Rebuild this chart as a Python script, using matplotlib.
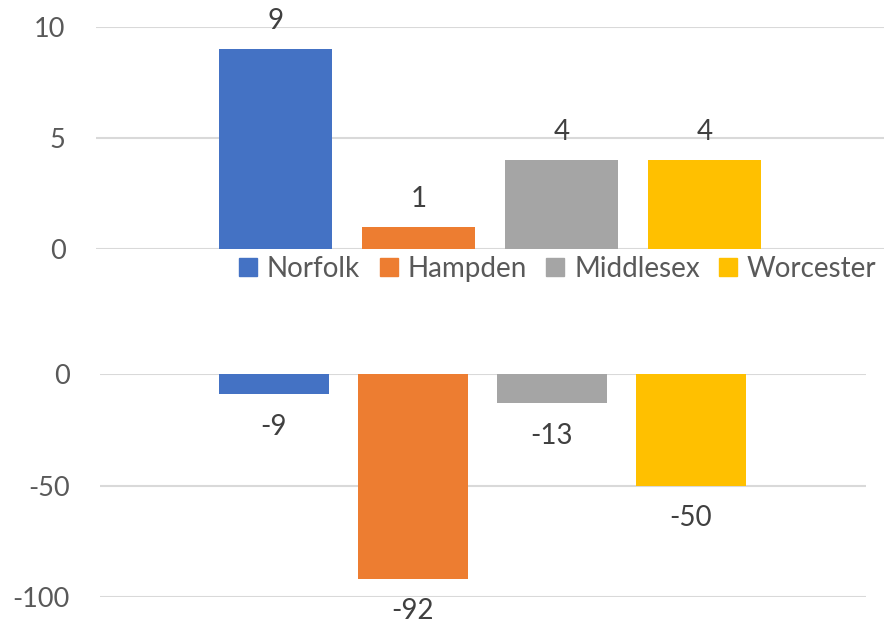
import matplotlib.pyplot as plt
from matplotlib.patches import Patch

plt.rcParams['font.family'] = ['Lato', 'DejaVu Sans']
plt.rcParams['axes.unicode_minus'] = False

counties = ['Norfolk', 'Hampden', 'Middlesex', 'Worcester']
top_vals = [9, 1, 4, 4]
bottom_vals = [-9, -92, -13, -50]
colors = ['#4472C4', '#ED7D31', '#A5A5A5', '#FFC000']

top_ticks = [0, 5, 10]
bottom_ticks = [-100, -50, 0]

fig = plt.figure(figsize=(8.87, 6.27), dpi=100)
ax1 = fig.add_axes([0.1082, 0.6033, 0.8884, 0.3541])
ax2 = fig.add_axes([0.1127, 0.0483, 0.8636, 0.3547])

x = range(len(counties))

def style(ax, ticks):
    ax.set_yticks(ticks)
    ax.set_xticks([])
    ax.grid(axis='y', color='#D9D9D9', linewidth=1.5)
    ax.set_axisbelow(True)
    for s in ax.spines.values():
        s.set_visible(False)
    ax.tick_params(axis='y', length=0, pad=22, labelsize=19.5, labelcolor='#595959')

# top panel
ax1.bar(x, top_vals, width=0.79, color=colors)
ax1.set_ylim(0, 10)
ax1.set_xlim(-1.255, 4.255)
style(ax1, top_ticks)
for i, v in enumerate(top_vals):
    ax1.annotate(str(v), (i, v), xytext=(0, 14), textcoords='offset points',
                 ha='center', va='baseline', fontsize=20, color='#404040')

# bottom panel
ax2.bar(x, bottom_vals, width=0.79, color=colors)
ax2.set_ylim(-100, 0)
ax2.set_xlim(-1.252, 4.259)
style(ax2, bottom_ticks)
for i, v in enumerate(bottom_vals):
    ax2.annotate(str(v), (i, v), xytext=(0, -14), textcoords='offset points',
                 ha='center', va='top', fontsize=20, color='#404040')

handles = [Patch(color=c, label=n) for c, n in zip(colors, counties)]
fig.legend(handles=handles, loc='center', bbox_to_anchor=(0.629, 0.571), ncol=4,
           frameon=False, fontsize=20, labelcolor='#595959',
           handlelength=0.65, handleheight=0.65, handletextpad=0.35,
           columnspacing=0.7, borderpad=0)

fig.savefig('out.png', dpi=100)
